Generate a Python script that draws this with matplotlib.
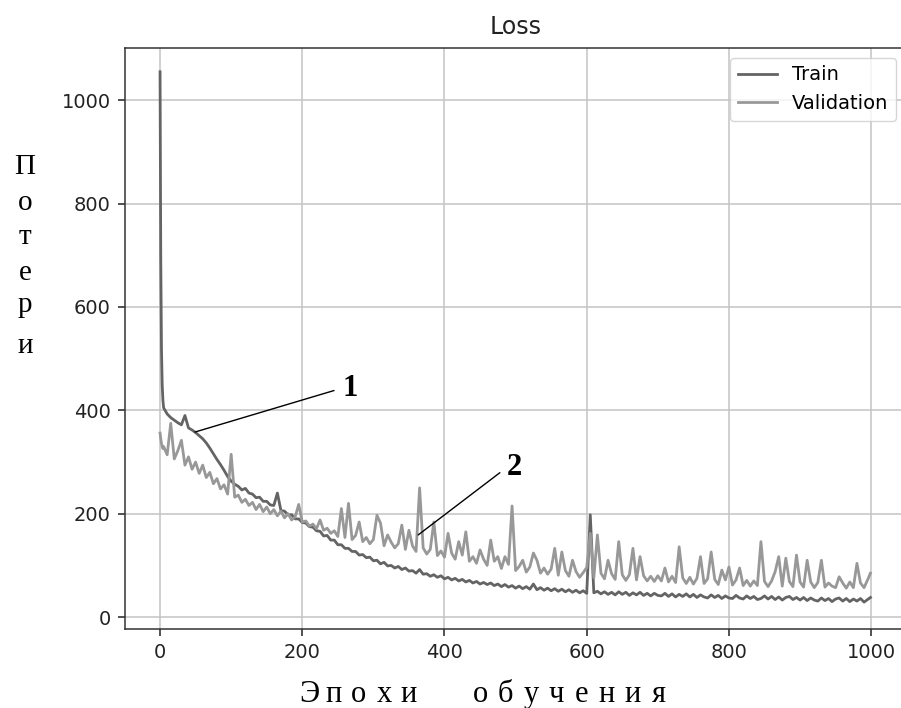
import matplotlib
matplotlib.use("Agg")
import matplotlib.pyplot as plt
import numpy as np

# ---------------------------------------------------------------------------
# Data (epoch grid: 0..4, then every 5 epochs, then 999)
# ---------------------------------------------------------------------------
epochs = np.r_[0:5, 5:1000:5, 999]

train_loss = [
    1055, 690, 520, 450, 420,
    405, 393, 386, 381, 376, 372, 390, 366, 362, 357, 351, 345, 337, 327, 316, 305, 295, 284, 272, 263,
    257, 253, 246, 249, 240, 238, 231, 232, 224, 224, 217, 216, 240, 206, 205, 198, 198, 190, 190, 183,
    182, 175, 174, 167, 166, 157, 158, 149, 149, 140, 140, 133, 133, 127, 127, 120, 121, 115, 116, 109,
    110, 103, 106, 99, 100, 95, 98, 92, 95, 89, 90, 85, 92, 83, 84, 79, 82, 77, 80, 74,
    77, 72, 75, 70, 73, 68, 71, 66, 69, 64, 67, 63, 66, 61, 64, 59, 63, 58, 61, 56,
    60, 55, 59, 54, 64, 53, 57, 52, 56, 51, 55, 50, 54, 49, 53, 48, 52, 47, 51, 46,
    198, 47, 50, 45, 49, 44, 48, 43, 49, 44, 48, 42, 47, 43, 48, 42, 46, 41, 46, 42,
    41, 46, 40, 45, 39, 44, 40, 45, 39, 44, 38, 43, 39, 37, 43, 38, 42, 36, 41, 37,
    36, 42, 37, 35, 41, 36, 40, 34, 36, 41, 35, 40, 34, 39, 33, 38, 40, 34, 38, 33,
    38, 32, 37, 33, 31, 37, 32, 36, 30, 35, 37, 31, 36, 30, 35, 31, 36, 29, 34, 38,
]

val_loss = [
    356, 345, 336, 330, 326,
    330, 314, 375, 306, 322, 342, 294, 310, 286, 300, 278, 294, 270, 280, 258, 268, 248, 256, 238, 315,
    232, 236, 222, 228, 216, 222, 208, 218, 204, 213, 200, 208, 196, 205, 192, 200, 188, 194, 218, 184,
    186, 176, 180, 171, 188, 168, 172, 162, 167, 156, 210, 154, 220, 150, 158, 184, 146, 154, 142, 150,
    197, 182, 138, 159, 145, 134, 142, 178, 131, 168, 138, 127, 250, 134, 122, 131, 184, 119, 128, 116,
    162, 124, 112, 146, 120, 165, 108, 117, 104, 130, 112, 100, 149, 108, 117, 94, 117, 102, 215, 90,
    98, 110, 87, 97, 124, 110, 85, 95, 83, 93, 133, 81, 126, 90, 79, 110, 88, 77, 86, 96,
    162, 76, 159, 85, 74, 110, 84, 73, 146, 82, 71, 82, 133, 72, 117, 80, 70, 79, 69, 80,
    70, 95, 68, 79, 67, 136, 76, 65, 77, 64, 75, 117, 65, 74, 126, 73, 63, 91, 72, 97,
    62, 72, 95, 61, 71, 60, 70, 61, 146, 69, 59, 70, 88, 117, 60, 114, 69, 59, 120, 68,
    58, 110, 68, 57, 67, 110, 58, 66, 60, 57, 78, 66, 56, 68, 57, 104, 66, 57, 72, 85,
]

series_names = ["Train", "Validation"]
series_colors = ["#646464", "#989898"]

y_label_text = "Потери"
x_label_words = ["Эпохи", "обучения"]

# ---------------------------------------------------------------------------
# Figure
# ---------------------------------------------------------------------------
W, H = 901, 708
fig = plt.figure(figsize=(W / 100, H / 100), dpi=100)
ax = fig.add_axes([124.5 / W, 1 - 629 / H, 781.5 / W, 581 / H])

ax.plot(epochs, train_loss, color=series_colors[0], lw=2.0, label=series_names[0])
ax.plot(epochs, val_loss, color=series_colors[1], lw=2.0, label=series_names[1])

ax.set_xlim(-50, 1049)
ax.set_ylim(-23, 1101)
ax.set_xticks([0, 200, 400, 600, 800, 1000])
ax.set_yticks([0, 200, 400, 600, 800, 1000])
ax.tick_params(labelsize=14, length=5, width=1.1, pad=5, colors="#222222")
ax.grid(True, color="#c4c4c4", lw=1.1)
for sp in ax.spines.values():
    sp.set_linewidth(1.1)
    sp.set_color("#333333")

ax.set_title("Loss", fontsize=17, pad=10, color="#222222")
ax.legend(loc="upper right", fontsize=14, handlelength=2.0, borderaxespad=0.5)

# annotations 1 and 2
ax.annotate("1", xy=(49, 358), xytext=(256, 443), fontsize=22, fontweight="bold",
            family="Liberation Serif", ha="left", va="center",
            arrowprops=dict(arrowstyle="-", color="black", lw=1.0,
                            relpos=(0, 0.5), shrinkA=4, shrinkB=0))
ax.annotate("2", xy=(363, 159), xytext=(488, 290), fontsize=22, fontweight="bold",
            family="Liberation Serif", ha="left", va="center",
            arrowprops=dict(arrowstyle="-", color="black", lw=1.0,
                            relpos=(0, 0.5), shrinkA=4, shrinkB=0))

# vertical y label, one letter per line
y_baselines = [174, 210, 244, 280, 312, 353]
for ch, yb in zip(y_label_text, y_baselines):
    fig.text(25 / W, 1 - yb / H, ch, fontsize=21, family="Liberation Serif",
             ha="center", va="baseline")

# spaced x label
x_centers = [[309, 334, 359, 384, 409], [480, 505, 531, 556, 582, 607, 633, 659]]
for word, xs in zip(x_label_words, x_centers):
    for ch, xc in zip(word, xs):
        fig.text(xc / W, 1 - 702 / H, ch, fontsize=22, family="Liberation Serif",
                 ha="center", va="baseline")

fig.savefig("out.png", dpi=100)
